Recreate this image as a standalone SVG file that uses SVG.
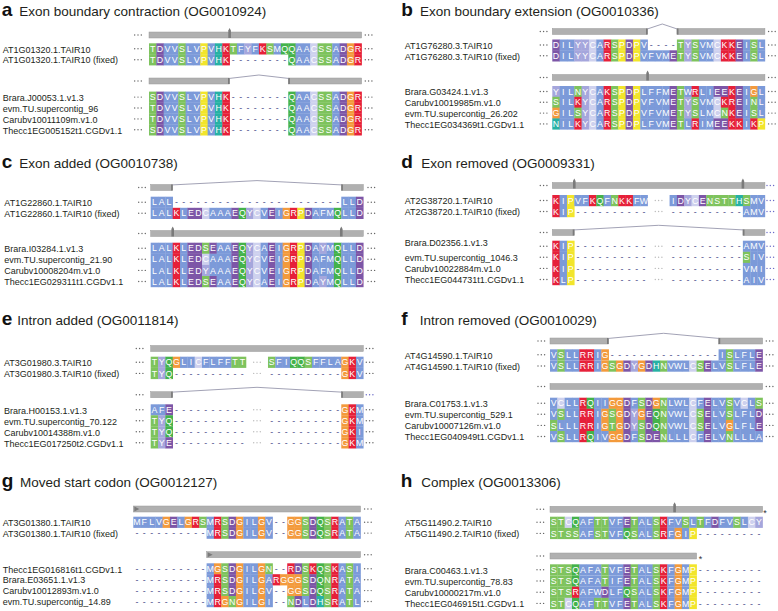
<svg xmlns="http://www.w3.org/2000/svg" xmlns:xlink="http://www.w3.org/1999/xlink" width="778" height="611" viewBox="0 0 778 611">
<style>
text{font-family:"Liberation Sans",Arial,sans-serif}
.tt{font-size:13.5px;fill:#231f20}
.pl{font-size:19px;font-weight:bold;fill:#111}
.lb{font-size:9px;fill:#231f20}
.s rect{width:1.04px;height:11.2px}
.sq{font-size:8.8px;fill:#fff;text-anchor:middle}
.gp{fill:#4b4b8a}
.A,.I,.L,.M,.F,.W,.V{fill:#7c9ad9}
.K,.R{fill:#e62039}
.S,.T,.N{fill:#7ec35d}
.Q{fill:#44b24a}
.D,.E{fill:#7d56a7}
.G{fill:#f39a3c}
.P{fill:#f2e52b}
.H{fill:#27b1a4}
.Y{fill:#a5a6dc}
.C{fill:#ced1ee}
.bar{fill:#b0b0b0;stroke:#9a9a9a;stroke-width:0.5}
.mk{fill:#7a7a7a}
.cap{fill:#7a7a7a}
.in{fill:none;stroke:#8a8aa2;stroke-width:0.8}
.ast{font-size:9px;fill:#333}
</style>
<defs>
<g id="dt"><circle cx="0" cy="0" r="0.7"/><circle cx="3.3" cy="0" r="0.7"/><circle cx="6.6" cy="0" r="0.7"/></g>
<path id="mk" d="M-1.3,10V2.5L0,0L1.3,2.5V10Z"/>
<path id="st" d="M0,0.5L5,3L0,5.5Z"/>
</defs>
<rect width="778" height="611" fill="#fff"/>

<!-- ============ PANEL A ============ -->
<g id="panel-a">
<text class="pl" x="1.7" y="15.7">a</text>
<text class="tt" x="19.3" y="15.7">Exon boundary contraction (OG0010924)</text>
<g id="a-bar1"><rect class="bar" x="149" y="32" width="212.6" height="6"/><use href="#mk" class="mk" x="229.6" y="28"/></g>
<g id="a-bar2"><rect class="bar" x="149" y="78" width="80.6" height="6"/><rect class="bar" x="288.3" y="78" width="73.3" height="6"/><rect class="cap" x="228" y="78" width="1.6" height="6"/><rect class="cap" x="288.3" y="78" width="1.6" height="6"/></g>
<g fill="#666"><use href="#dt" x="134.7" y="35"/><use href="#dt" x="365.3" y="35"/><use href="#dt" x="134.7" y="81"/><use href="#dt" x="365.3" y="81"/>
<use href="#dt" x="134.7" y="48.8"/><use href="#dt" x="365.3" y="48.8"/><use href="#dt" x="134.7" y="59.7"/><use href="#dt" x="365.3" y="59.7"/>
<use href="#dt" x="134.7" y="97.1"/><use href="#dt" x="365.3" y="97.1"/><use href="#dt" x="134.7" y="108"/><use href="#dt" x="365.3" y="108"/><use href="#dt" x="134.7" y="118.9"/><use href="#dt" x="365.3" y="118.9"/><use href="#dt" x="134.7" y="129.8"/><use href="#dt" x="365.3" y="129.8"/></g>
<g id="a-r1"><text class="lb" x="2.7" y="52.5">AT1G01320.1.TAIR10</text>
<g class="s" transform="translate(149,43.3) scale(7.33,1)"><rect x="0" class="T"/><rect x="1" class="D"/><rect x="2" class="V"/><rect x="3" class="V"/><rect x="4" class="S"/><rect x="5" class="L"/><rect x="6" class="V"/><rect x="7" class="P"/><rect x="8" class="V"/><rect x="9" class="H"/><rect x="10" class="K"/><rect x="11" class="T"/><rect x="12" class="F"/><rect x="13" class="Y"/><rect x="14" class="F"/><rect x="15" class="K"/><rect x="16" class="S"/><rect x="17" class="M"/><rect x="18" class="Q"/><rect x="19" class="Q"/><rect x="20" class="A"/><rect x="21" class="A"/><rect x="22" class="C"/><rect x="23" class="S"/><rect x="24" class="S"/><rect x="25" class="A"/><rect x="26" class="D"/><rect x="27" class="G"/><rect x="28" class="R"/></g>
<text class="sq" transform="translate(149,51.9)" x="3.67 11 18.33 25.66 32.99 40.32 47.65 54.98 62.31 69.64 76.97 84.3 91.63 98.96 106.29 113.62 120.95 128.28 135.61 142.94 150.27 157.6 164.93 172.26 179.59 186.92 194.25 201.58 208.91">TDVVSLVPVHKTFYFKSMQQAACSSADGR</text></g>
<g id="a-r2"><text class="lb" x="2.7" y="63.4">AT1G01320.1.TAIR10 (fixed)</text>
<g class="s" transform="translate(149,54.2) scale(7.33,1)"><rect x="0" class="T"/><rect x="1" class="D"/><rect x="2" class="V"/><rect x="3" class="V"/><rect x="4" class="S"/><rect x="5" class="L"/><rect x="6" class="V"/><rect x="7" class="P"/><rect x="8" class="V"/><rect x="9" class="H"/><rect x="10" class="K"/><rect x="19" class="Q"/><rect x="20" class="A"/><rect x="21" class="A"/><rect x="22" class="C"/><rect x="23" class="S"/><rect x="24" class="S"/><rect x="25" class="A"/><rect x="26" class="D"/><rect x="27" class="G"/><rect x="28" class="R"/></g>
<text class="sq" transform="translate(149,62.8)" x="3.67 11 18.33 25.66 32.99 40.32 47.65 54.98 62.31 69.64 76.97 84.3 91.63 98.96 106.29 113.62 120.95 128.28 135.61 142.94 150.27 157.6 164.93 172.26 179.59 186.92 194.25 201.58 208.91">TDVVSLVPVHK<tspan class="gp">--------</tspan>QAACSSADGR</text></g>
<g id="a-r3"><text class="lb" x="2.7" y="100.8">Brara.J00053.1.v1.3</text>
<g class="s" transform="translate(149,91.6) scale(7.33,1)"><rect x="0" class="S"/><rect x="1" class="D"/><rect x="2" class="V"/><rect x="3" class="V"/><rect x="4" class="S"/><rect x="5" class="L"/><rect x="6" class="V"/><rect x="7" class="P"/><rect x="8" class="V"/><rect x="9" class="H"/><rect x="10" class="K"/><rect x="19" class="Q"/><rect x="20" class="A"/><rect x="21" class="A"/><rect x="22" class="C"/><rect x="23" class="S"/><rect x="24" class="S"/><rect x="25" class="A"/><rect x="26" class="D"/><rect x="27" class="G"/><rect x="28" class="R"/></g>
<text class="sq" transform="translate(149,100.2)" x="3.67 11 18.33 25.66 32.99 40.32 47.65 54.98 62.31 69.64 76.97 84.3 91.63 98.96 106.29 113.62 120.95 128.28 135.61 142.94 150.27 157.6 164.93 172.26 179.59 186.92 194.25 201.58 208.91">SDVVSLVPVHK<tspan class="gp">--------</tspan>QAACSSADGR</text></g>
<g id="a-r4"><text class="lb" x="2.7" y="111.7">evm.TU.supercontig_96</text>
<g class="s" transform="translate(149,102.5) scale(7.33,1)"><rect x="0" class="T"/><rect x="1" class="D"/><rect x="2" class="V"/><rect x="3" class="V"/><rect x="4" class="S"/><rect x="5" class="L"/><rect x="6" class="V"/><rect x="7" class="P"/><rect x="8" class="V"/><rect x="9" class="H"/><rect x="10" class="K"/><rect x="19" class="Q"/><rect x="20" class="A"/><rect x="21" class="A"/><rect x="22" class="C"/><rect x="23" class="S"/><rect x="24" class="S"/><rect x="25" class="A"/><rect x="26" class="D"/><rect x="27" class="G"/><rect x="28" class="R"/></g>
<text class="sq" transform="translate(149,111.1)" x="3.67 11 18.33 25.66 32.99 40.32 47.65 54.98 62.31 69.64 76.97 84.3 91.63 98.96 106.29 113.62 120.95 128.28 135.61 142.94 150.27 157.6 164.93 172.26 179.59 186.92 194.25 201.58 208.91">TDVVSLVPVHK<tspan class="gp">--------</tspan>QAACSSADGR</text></g>
<g id="a-r5"><text class="lb" x="2.7" y="122.6">Carubv10011109m.v1.0</text>
<g class="s" transform="translate(149,113.4) scale(7.33,1)"><rect x="0" class="T"/><rect x="1" class="D"/><rect x="2" class="V"/><rect x="3" class="V"/><rect x="4" class="S"/><rect x="5" class="L"/><rect x="6" class="V"/><rect x="7" class="P"/><rect x="8" class="V"/><rect x="9" class="H"/><rect x="10" class="K"/><rect x="19" class="Q"/><rect x="20" class="A"/><rect x="21" class="A"/><rect x="22" class="C"/><rect x="23" class="S"/><rect x="24" class="S"/><rect x="25" class="A"/><rect x="26" class="D"/><rect x="27" class="G"/><rect x="28" class="R"/></g>
<text class="sq" transform="translate(149,122)" x="3.67 11 18.33 25.66 32.99 40.32 47.65 54.98 62.31 69.64 76.97 84.3 91.63 98.96 106.29 113.62 120.95 128.28 135.61 142.94 150.27 157.6 164.93 172.26 179.59 186.92 194.25 201.58 208.91">TDVVSLVPVHK<tspan class="gp">--------</tspan>QAACSSADGR</text></g>
<g id="a-r6"><text class="lb" x="2.7" y="133.5">Thecc1EG005152t1.CGDv1.1</text>
<g class="s" transform="translate(149,124.3) scale(7.33,1)"><rect x="0" class="S"/><rect x="1" class="D"/><rect x="2" class="V"/><rect x="3" class="V"/><rect x="4" class="S"/><rect x="5" class="L"/><rect x="6" class="V"/><rect x="7" class="P"/><rect x="8" class="V"/><rect x="9" class="H"/><rect x="10" class="K"/><rect x="19" class="Q"/><rect x="20" class="A"/><rect x="21" class="A"/><rect x="22" class="C"/><rect x="23" class="S"/><rect x="24" class="S"/><rect x="25" class="A"/><rect x="26" class="D"/><rect x="27" class="G"/><rect x="28" class="R"/></g>
<text class="sq" transform="translate(149,132.9)" x="3.67 11 18.33 25.66 32.99 40.32 47.65 54.98 62.31 69.64 76.97 84.3 91.63 98.96 106.29 113.62 120.95 128.28 135.61 142.94 150.27 157.6 164.93 172.26 179.59 186.92 194.25 201.58 208.91">SDVVSLVPVHK<tspan class="gp">--------</tspan>QAACSSADGR</text></g>
</g>

<!-- ============ PANEL B ============ -->
<g id="panel-b">
<text class="pl" x="401.3" y="15.7">b</text>
<text class="tt" x="420" y="15.7">Exon boundary extension (OG0010336)</text>
<g id="b-bar1"><rect class="bar" x="552.3" y="28.5" width="95.3" height="6"/><rect class="bar" x="676.9" y="28.5" width="88" height="6"/><rect class="cap" x="646" y="28.5" width="1.6" height="6"/><rect class="cap" x="676.9" y="28.5" width="1.6" height="6"/></g>
<g id="b-bar2"><rect class="bar" x="552.3" y="74.5" width="212.6" height="6"/><use href="#mk" class="mk" x="647.6" y="70.5"/></g>
<g fill="#666"><use href="#dt" x="540.3" y="31.5"/><use href="#dt" x="768.6" y="31.5"/><use href="#dt" x="540.3" y="77.5"/><use href="#dt" x="768.6" y="77.5"/>
<use href="#dt" x="540.3" y="45"/><use href="#dt" x="768.6" y="45"/><use href="#dt" x="540.3" y="55.8"/><use href="#dt" x="768.6" y="55.8"/>
<use href="#dt" x="540.3" y="91.5"/><use href="#dt" x="768.6" y="91.5"/><use href="#dt" x="540.3" y="102.3"/><use href="#dt" x="768.6" y="102.3"/><use href="#dt" x="540.3" y="113.1"/><use href="#dt" x="768.6" y="113.1"/><use href="#dt" x="540.3" y="123.9"/><use href="#dt" x="768.6" y="123.9"/></g>
<g id="b-r1"><text class="lb" x="404.7" y="48.7">AT1G76280.3.TAIR10</text>
<g class="s" transform="translate(552.3,39.5) scale(7.33,1)"><rect x="0" class="D"/><rect x="1" class="I"/><rect x="2" class="L"/><rect x="3" class="Y"/><rect x="4" class="Y"/><rect x="5" class="C"/><rect x="6" class="A"/><rect x="7" class="R"/><rect x="8" class="S"/><rect x="9" class="P"/><rect x="10" class="D"/><rect x="11" class="P"/><rect x="12" class="V"/><rect x="17" class="T"/><rect x="18" class="Y"/><rect x="19" class="S"/><rect x="20" class="V"/><rect x="21" class="M"/><rect x="22" class="C"/><rect x="23" class="K"/><rect x="24" class="K"/><rect x="25" class="E"/><rect x="26" class="I"/><rect x="27" class="S"/><rect x="28" class="L"/></g>
<text class="sq" transform="translate(552.3,48.1)" x="3.67 11 18.33 25.66 32.99 40.32 47.65 54.98 62.31 69.64 76.97 84.3 91.63 98.96 106.29 113.62 120.95 128.28 135.61 142.94 150.27 157.6 164.93 172.26 179.59 186.92 194.25 201.58 208.91">DILYYCARSPDPV<tspan class="gp">----</tspan>TYSVMCKKEISL</text></g>
<g id="b-r2"><text class="lb" x="404.7" y="59.5">AT1G76280.3.TAIR10 (fixed)</text>
<g class="s" transform="translate(552.3,50.3) scale(7.33,1)"><rect x="0" class="D"/><rect x="1" class="I"/><rect x="2" class="L"/><rect x="3" class="Y"/><rect x="4" class="Y"/><rect x="5" class="C"/><rect x="6" class="A"/><rect x="7" class="R"/><rect x="8" class="S"/><rect x="9" class="P"/><rect x="10" class="D"/><rect x="11" class="P"/><rect x="12" class="V"/><rect x="13" class="F"/><rect x="14" class="V"/><rect x="15" class="M"/><rect x="16" class="E"/><rect x="17" class="T"/><rect x="18" class="Y"/><rect x="19" class="S"/><rect x="20" class="V"/><rect x="21" class="M"/><rect x="22" class="C"/><rect x="23" class="K"/><rect x="24" class="K"/><rect x="25" class="E"/><rect x="26" class="I"/><rect x="27" class="S"/><rect x="28" class="L"/></g>
<text class="sq" transform="translate(552.3,58.9)" x="3.67 11 18.33 25.66 32.99 40.32 47.65 54.98 62.31 69.64 76.97 84.3 91.63 98.96 106.29 113.62 120.95 128.28 135.61 142.94 150.27 157.6 164.93 172.26 179.59 186.92 194.25 201.58 208.91">DILYYCARSPDPVFVMETYSVMCKKEISL</text></g>
<g id="b-r3"><text class="lb" x="404.7" y="95.2">Brara.G03424.1.v1.3</text>
<g class="s" transform="translate(552.3,86) scale(7.33,1)"><rect x="0" class="Y"/><rect x="1" class="I"/><rect x="2" class="L"/><rect x="3" class="N"/><rect x="4" class="Y"/><rect x="5" class="C"/><rect x="6" class="A"/><rect x="7" class="K"/><rect x="8" class="S"/><rect x="9" class="P"/><rect x="10" class="D"/><rect x="11" class="P"/><rect x="12" class="L"/><rect x="13" class="F"/><rect x="14" class="F"/><rect x="15" class="M"/><rect x="16" class="E"/><rect x="17" class="T"/><rect x="18" class="W"/><rect x="19" class="R"/><rect x="20" class="L"/><rect x="21" class="I"/><rect x="22" class="E"/><rect x="23" class="E"/><rect x="24" class="K"/><rect x="25" class="E"/><rect x="26" class="I"/><rect x="27" class="G"/><rect x="28" class="L"/></g>
<text class="sq" transform="translate(552.3,94.6)" x="3.67 11 18.33 25.66 32.99 40.32 47.65 54.98 62.31 69.64 76.97 84.3 91.63 98.96 106.29 113.62 120.95 128.28 135.61 142.94 150.27 157.6 164.93 172.26 179.59 186.92 194.25 201.58 208.91">YILNYCAKSPDPLFFMETWRLIEEKEIGL</text></g>
<g id="b-r4"><text class="lb" x="404.7" y="106">Carubv10019985m.v1.0</text>
<g class="s" transform="translate(552.3,96.8) scale(7.33,1)"><rect x="0" class="S"/><rect x="1" class="I"/><rect x="2" class="L"/><rect x="3" class="K"/><rect x="4" class="Y"/><rect x="5" class="C"/><rect x="6" class="A"/><rect x="7" class="R"/><rect x="8" class="S"/><rect x="9" class="P"/><rect x="10" class="D"/><rect x="11" class="P"/><rect x="12" class="V"/><rect x="13" class="F"/><rect x="14" class="V"/><rect x="15" class="M"/><rect x="16" class="E"/><rect x="17" class="T"/><rect x="18" class="Y"/><rect x="19" class="S"/><rect x="20" class="V"/><rect x="21" class="M"/><rect x="22" class="C"/><rect x="23" class="K"/><rect x="24" class="R"/><rect x="25" class="E"/><rect x="26" class="I"/><rect x="27" class="N"/><rect x="28" class="L"/></g>
<text class="sq" transform="translate(552.3,105.4)" x="3.67 11 18.33 25.66 32.99 40.32 47.65 54.98 62.31 69.64 76.97 84.3 91.63 98.96 106.29 113.62 120.95 128.28 135.61 142.94 150.27 157.6 164.93 172.26 179.59 186.92 194.25 201.58 208.91">SILKYCARSPDPVFVMETYSVMCKREINL</text></g>
<g id="b-r5"><text class="lb" x="404.7" y="116.8">evm.TU.supercontig_26.202</text>
<g class="s" transform="translate(552.3,107.6) scale(7.33,1)"><rect x="0" class="G"/><rect x="1" class="I"/><rect x="2" class="L"/><rect x="3" class="S"/><rect x="4" class="Y"/><rect x="5" class="C"/><rect x="6" class="A"/><rect x="7" class="R"/><rect x="8" class="S"/><rect x="9" class="P"/><rect x="10" class="D"/><rect x="11" class="P"/><rect x="12" class="V"/><rect x="13" class="F"/><rect x="14" class="V"/><rect x="15" class="M"/><rect x="16" class="E"/><rect x="17" class="T"/><rect x="18" class="Y"/><rect x="19" class="S"/><rect x="20" class="L"/><rect x="21" class="M"/><rect x="22" class="C"/><rect x="23" class="N"/><rect x="24" class="K"/><rect x="25" class="E"/><rect x="26" class="I"/><rect x="27" class="S"/><rect x="28" class="L"/></g>
<text class="sq" transform="translate(552.3,116.2)" x="3.67 11 18.33 25.66 32.99 40.32 47.65 54.98 62.31 69.64 76.97 84.3 91.63 98.96 106.29 113.62 120.95 128.28 135.61 142.94 150.27 157.6 164.93 172.26 179.59 186.92 194.25 201.58 208.91">GILSYCARSPDPVFVMETYSLMCNKEISL</text></g>
<g id="b-r6"><text class="lb" x="404.7" y="127.6">Thecc1EG034369t1.CGDv1.1</text>
<g class="s" transform="translate(552.3,118.4) scale(7.33,1)"><rect x="0" class="H"/><rect x="1" class="I"/><rect x="2" class="L"/><rect x="3" class="K"/><rect x="4" class="Y"/><rect x="5" class="C"/><rect x="6" class="A"/><rect x="7" class="R"/><rect x="8" class="S"/><rect x="9" class="P"/><rect x="10" class="D"/><rect x="11" class="P"/><rect x="12" class="L"/><rect x="13" class="F"/><rect x="14" class="V"/><rect x="15" class="M"/><rect x="16" class="E"/><rect x="17" class="T"/><rect x="18" class="L"/><rect x="19" class="R"/><rect x="20" class="I"/><rect x="21" class="M"/><rect x="22" class="E"/><rect x="23" class="E"/><rect x="24" class="K"/><rect x="25" class="K"/><rect x="26" class="I"/><rect x="27" class="K"/><rect x="28" class="P"/></g>
<text class="sq" transform="translate(552.3,127)" x="3.67 11 18.33 25.66 32.99 40.32 47.65 54.98 62.31 69.64 76.97 84.3 91.63 98.96 106.29 113.62 120.95 128.28 135.61 142.94 150.27 157.6 164.93 172.26 179.59 186.92 194.25 201.58 208.91">NILKYCARSPDPLFVMETLRIMEEKKIKP</text></g>
</g>

<!-- ============ PANEL C ============ -->
<g id="panel-c">
<text class="pl" x="1.7" y="168.3">c</text>
<text class="tt" x="19.3" y="168.3">Exon added (OG0010738)</text>
<g id="c-bar1"><rect class="bar" x="150.7" y="184.5" width="22" height="6"/><rect class="bar" x="341.3" y="184.5" width="22" height="6"/><rect class="cap" x="171.1" y="184.5" width="1.6" height="6"/><rect class="cap" x="341.3" y="184.5" width="1.6" height="6"/></g>
<g id="c-bar2"><rect class="bar" x="150.7" y="230.5" width="212.6" height="6"/><use href="#mk" class="mk" x="172.7" y="226.5"/><use href="#mk" class="mk" x="341.3" y="226.5"/></g>
<g fill="#666"><use href="#dt" x="138.7" y="187.5"/><use href="#dt" x="368" y="187.5"/><use href="#dt" x="138.7" y="233.5"/><use href="#dt" x="368" y="233.5"/>
<use href="#dt" x="138.7" y="202.2"/><use href="#dt" x="368" y="202.2"/><use href="#dt" x="138.7" y="213.3"/><use href="#dt" x="368" y="213.3"/>
<use href="#dt" x="138.7" y="248.2"/><use href="#dt" x="368" y="248.2"/><use href="#dt" x="138.7" y="259.3"/><use href="#dt" x="368" y="259.3"/><use href="#dt" x="138.7" y="270.4"/><use href="#dt" x="368" y="270.4"/><use href="#dt" x="138.7" y="281.5"/><use href="#dt" x="368" y="281.5"/></g>
<g id="c-r1"><text class="lb" x="4.3" y="205.9">AT1G22860.1.TAIR10</text>
<g class="s" transform="translate(150.7,196.7) scale(7.33,1)"><rect x="0" class="L"/><rect x="1" class="A"/><rect x="2" class="L"/><rect x="26" class="L"/><rect x="27" class="L"/><rect x="28" class="D"/></g>
<text class="sq" transform="translate(150.7,205.3)" x="3.67 11 18.33 25.66 32.99 40.32 47.65 54.98 62.31 69.64 76.97 84.3 91.63 98.96 106.29 113.62 120.95 128.28 135.61 142.94 150.27 157.6 164.93 172.26 179.59 186.92 194.25 201.58 208.91">LAL<tspan class="gp">-----------------------</tspan>LLD</text></g>
<g id="c-r2"><text class="lb" x="4.3" y="217">AT1G22860.1.TAIR10 (fixed)</text>
<g class="s" transform="translate(150.7,207.8) scale(7.33,1)"><rect x="0" class="L"/><rect x="1" class="A"/><rect x="2" class="L"/><rect x="3" class="K"/><rect x="4" class="L"/><rect x="5" class="E"/><rect x="6" class="D"/><rect x="7" class="C"/><rect x="8" class="A"/><rect x="9" class="A"/><rect x="10" class="A"/><rect x="11" class="E"/><rect x="12" class="Q"/><rect x="13" class="Y"/><rect x="14" class="C"/><rect x="15" class="V"/><rect x="16" class="E"/><rect x="17" class="I"/><rect x="18" class="G"/><rect x="19" class="R"/><rect x="20" class="P"/><rect x="21" class="D"/><rect x="22" class="A"/><rect x="23" class="F"/><rect x="24" class="M"/><rect x="25" class="Q"/><rect x="26" class="L"/><rect x="27" class="L"/><rect x="28" class="D"/></g>
<text class="sq" transform="translate(150.7,216.4)" x="3.67 11 18.33 25.66 32.99 40.32 47.65 54.98 62.31 69.64 76.97 84.3 91.63 98.96 106.29 113.62 120.95 128.28 135.61 142.94 150.27 157.6 164.93 172.26 179.59 186.92 194.25 201.58 208.91">LALKLEDCAAAEQYCVEIGRPDAFMQLLD</text></g>
<g id="c-r3"><text class="lb" x="4.3" y="251.9">Brara.I03284.1.v1.3</text>
<g class="s" transform="translate(150.7,242.7) scale(7.33,1)"><rect x="0" class="L"/><rect x="1" class="A"/><rect x="2" class="L"/><rect x="3" class="K"/><rect x="4" class="L"/><rect x="5" class="E"/><rect x="6" class="D"/><rect x="7" class="S"/><rect x="8" class="E"/><rect x="9" class="A"/><rect x="10" class="A"/><rect x="11" class="E"/><rect x="12" class="Q"/><rect x="13" class="Y"/><rect x="14" class="C"/><rect x="15" class="A"/><rect x="16" class="E"/><rect x="17" class="I"/><rect x="18" class="G"/><rect x="19" class="R"/><rect x="20" class="P"/><rect x="21" class="D"/><rect x="22" class="A"/><rect x="23" class="Y"/><rect x="24" class="M"/><rect x="25" class="Q"/><rect x="26" class="L"/><rect x="27" class="L"/><rect x="28" class="D"/></g>
<text class="sq" transform="translate(150.7,251.3)" x="3.67 11 18.33 25.66 32.99 40.32 47.65 54.98 62.31 69.64 76.97 84.3 91.63 98.96 106.29 113.62 120.95 128.28 135.61 142.94 150.27 157.6 164.93 172.26 179.59 186.92 194.25 201.58 208.91">LALKLEDSEAAEQYCAEIGRPDAYMQLLD</text></g>
<g id="c-r4"><text class="lb" x="4.3" y="263">evm.TU.supercontig_21.90</text>
<g class="s" transform="translate(150.7,253.8) scale(7.33,1)"><rect x="0" class="L"/><rect x="1" class="A"/><rect x="2" class="L"/><rect x="3" class="K"/><rect x="4" class="L"/><rect x="5" class="E"/><rect x="6" class="D"/><rect x="7" class="C"/><rect x="8" class="A"/><rect x="9" class="A"/><rect x="10" class="A"/><rect x="11" class="E"/><rect x="12" class="Q"/><rect x="13" class="Y"/><rect x="14" class="C"/><rect x="15" class="V"/><rect x="16" class="E"/><rect x="17" class="I"/><rect x="18" class="G"/><rect x="19" class="R"/><rect x="20" class="P"/><rect x="21" class="D"/><rect x="22" class="A"/><rect x="23" class="F"/><rect x="24" class="M"/><rect x="25" class="Q"/><rect x="26" class="L"/><rect x="27" class="L"/><rect x="28" class="D"/></g>
<text class="sq" transform="translate(150.7,262.4)" x="3.67 11 18.33 25.66 32.99 40.32 47.65 54.98 62.31 69.64 76.97 84.3 91.63 98.96 106.29 113.62 120.95 128.28 135.61 142.94 150.27 157.6 164.93 172.26 179.59 186.92 194.25 201.58 208.91">LALKLEDCAAAEQYCVEIGRPDAFMQLLD</text></g>
<g id="c-r5"><text class="lb" x="4.3" y="274.1">Carubv10008204m.v1.0</text>
<g class="s" transform="translate(150.7,264.9) scale(7.33,1)"><rect x="0" class="L"/><rect x="1" class="A"/><rect x="2" class="L"/><rect x="3" class="K"/><rect x="4" class="L"/><rect x="5" class="E"/><rect x="6" class="D"/><rect x="7" class="Y"/><rect x="8" class="A"/><rect x="9" class="A"/><rect x="10" class="A"/><rect x="11" class="E"/><rect x="12" class="Q"/><rect x="13" class="Y"/><rect x="14" class="C"/><rect x="15" class="V"/><rect x="16" class="E"/><rect x="17" class="I"/><rect x="18" class="G"/><rect x="19" class="R"/><rect x="20" class="P"/><rect x="21" class="D"/><rect x="22" class="A"/><rect x="23" class="F"/><rect x="24" class="M"/><rect x="25" class="Q"/><rect x="26" class="L"/><rect x="27" class="L"/><rect x="28" class="D"/></g>
<text class="sq" transform="translate(150.7,273.5)" x="3.67 11 18.33 25.66 32.99 40.32 47.65 54.98 62.31 69.64 76.97 84.3 91.63 98.96 106.29 113.62 120.95 128.28 135.61 142.94 150.27 157.6 164.93 172.26 179.59 186.92 194.25 201.58 208.91">LALKLEDYAAAEQYCVEIGRPDAFMQLLD</text></g>
<g id="c-r6"><text class="lb" x="4.3" y="285.2">Thecc1EG029311t1.CGDv1.1</text>
<g class="s" transform="translate(150.7,276) scale(7.33,1)"><rect x="0" class="L"/><rect x="1" class="A"/><rect x="2" class="L"/><rect x="3" class="K"/><rect x="4" class="L"/><rect x="5" class="E"/><rect x="6" class="D"/><rect x="7" class="S"/><rect x="8" class="E"/><rect x="9" class="A"/><rect x="10" class="A"/><rect x="11" class="E"/><rect x="12" class="Q"/><rect x="13" class="Y"/><rect x="14" class="C"/><rect x="15" class="A"/><rect x="16" class="E"/><rect x="17" class="I"/><rect x="18" class="G"/><rect x="19" class="R"/><rect x="20" class="P"/><rect x="21" class="D"/><rect x="22" class="A"/><rect x="23" class="Y"/><rect x="24" class="M"/><rect x="25" class="Q"/><rect x="26" class="L"/><rect x="27" class="L"/><rect x="28" class="D"/></g>
<text class="sq" transform="translate(150.7,284.6)" x="3.67 11 18.33 25.66 32.99 40.32 47.65 54.98 62.31 69.64 76.97 84.3 91.63 98.96 106.29 113.62 120.95 128.28 135.61 142.94 150.27 157.6 164.93 172.26 179.59 186.92 194.25 201.58 208.91">LALKLEDSEAAEQYCAEIGRPDAYMQLLD</text></g>
</g>

<!-- ============ PANEL D ============ -->
<g id="panel-d">
<text class="pl" x="401.3" y="168.3">d</text>
<text class="tt" x="421.3" y="168.3">Exon removed (OG0009331)</text>
<g id="d-bar1"><rect class="bar" x="552.3" y="182.5" width="212.6" height="6"/><use href="#mk" class="mk" x="574.3" y="178.5"/><use href="#mk" class="mk" x="742.9" y="178.5"/></g>
<g id="d-bar2"><rect class="bar" x="552.3" y="229.5" width="22" height="6"/><rect class="bar" x="742.9" y="229.5" width="22" height="6"/><rect class="cap" x="572.7" y="229.5" width="1.6" height="6"/><rect class="cap" x="742.9" y="229.5" width="1.6" height="6"/></g>
<g fill="#666"><use href="#dt" x="540.3" y="185.5"/><use href="#dt" x="540.3" y="232.5"/><use href="#dt" x="540.3" y="200.5"/><use href="#dt" x="540.3" y="211.5"/>
<use href="#dt" x="540.3" y="246.2"/><use href="#dt" x="540.3" y="257.3"/><use href="#dt" x="540.3" y="268.4"/><use href="#dt" x="540.3" y="279.5"/></g>
<g fill="#6a6ac8"><use href="#dt" x="767" y="185.5"/><use href="#dt" x="767" y="232.5"/><use href="#dt" x="767" y="200.5"/><use href="#dt" x="767" y="211.5"/>
<use href="#dt" x="767" y="246.2"/><use href="#dt" x="767" y="257.3"/><use href="#dt" x="767" y="268.4"/><use href="#dt" x="767" y="279.5"/></g>
<g fill="#bbb"><use href="#dt" x="655.3" y="200.5"/><use href="#dt" x="655.3" y="211.5"/><use href="#dt" x="655.3" y="246.2"/><use href="#dt" x="655.3" y="257.3"/><use href="#dt" x="655.3" y="268.4"/><use href="#dt" x="655.3" y="279.5"/></g>
<g id="d-r1"><text class="lb" x="404.7" y="204.2">AT2G38720.1.TAIR10</text>
<g class="s" transform="translate(552.3,195) scale(7.33,1)"><rect x="0" class="K"/><rect x="1" class="I"/><rect x="2" class="P"/><rect x="3" class="V"/><rect x="4" class="F"/><rect x="5" class="K"/><rect x="6" class="Q"/><rect x="7" class="F"/><rect x="8" class="N"/><rect x="9" class="K"/><rect x="10" class="K"/><rect x="11" class="F"/><rect x="12" class="W"/><rect x="16" class="I"/><rect x="17" class="D"/><rect x="18" class="Y"/><rect x="19" class="C"/><rect x="20" class="E"/><rect x="21" class="N"/><rect x="22" class="S"/><rect x="23" class="T"/><rect x="24" class="T"/><rect x="25" class="H"/><rect x="26" class="S"/><rect x="27" class="M"/><rect x="28" class="V"/></g>
<text class="sq" transform="translate(552.3,203.6)" x="3.67 11 18.33 25.66 32.99 40.32 47.65 54.98 62.31 69.64 76.97 84.3 91.63 98.96 106.29 113.62 120.95 128.28 135.61 142.94 150.27 157.6 164.93 172.26 179.59 186.92 194.25 201.58 208.91">KIPVFKQFNKKFW&#160;&#160;&#160;IDYCENSTTHSMV</text></g>
<g id="d-r2"><text class="lb" x="404.7" y="215.2">AT2G38720.1.TAIR10 (fixed)</text>
<g class="s" transform="translate(552.3,206) scale(7.33,1)"><rect x="0" class="K"/><rect x="1" class="I"/><rect x="2" class="P"/><rect x="26" class="A"/><rect x="27" class="M"/><rect x="28" class="V"/></g>
<text class="sq" transform="translate(552.3,214.6)" x="3.67 11 18.33 25.66 32.99 40.32 47.65 54.98 62.31 69.64 76.97 84.3 91.63 98.96 106.29 113.62 120.95 128.28 135.61 142.94 150.27 157.6 164.93 172.26 179.59 186.92 194.25 201.58 208.91">KIP<tspan class="gp">----------</tspan>&#160;&#160;&#160;<tspan class="gp">----------</tspan>AMV</text></g>
<g id="d-r3"><text class="lb" x="404.7" y="246.4">Brara.D02356.1.v1.3</text>
<g class="s" transform="translate(552.3,240.7) scale(7.33,1)"><rect x="0" class="K"/><rect x="1" class="I"/><rect x="2" class="P"/><rect x="26" class="A"/><rect x="27" class="M"/><rect x="28" class="V"/></g>
<text class="sq" transform="translate(552.3,249.3)" x="3.67 11 18.33 25.66 32.99 40.32 47.65 54.98 62.31 69.64 76.97 84.3 91.63 98.96 106.29 113.62 120.95 128.28 135.61 142.94 150.27 157.6 164.93 172.26 179.59 186.92 194.25 201.58 208.91">KIP<tspan class="gp">----------</tspan>&#160;&#160;&#160;<tspan class="gp">----------</tspan>AMV</text></g>
<g id="d-r4"><text class="lb" x="404.7" y="261">evm.TU.supercontig_1046.3</text>
<g class="s" transform="translate(552.3,251.8) scale(7.33,1)"><rect x="0" class="K"/><rect x="1" class="I"/><rect x="2" class="P"/><rect x="26" class="S"/><rect x="27" class="I"/><rect x="28" class="V"/></g>
<text class="sq" transform="translate(552.3,260.4)" x="3.67 11 18.33 25.66 32.99 40.32 47.65 54.98 62.31 69.64 76.97 84.3 91.63 98.96 106.29 113.62 120.95 128.28 135.61 142.94 150.27 157.6 164.93 172.26 179.59 186.92 194.25 201.58 208.91">KIP<tspan class="gp">----------</tspan>&#160;&#160;&#160;<tspan class="gp">----------</tspan>SIV</text></g>
<g id="d-r5"><text class="lb" x="404.7" y="272.1">Carubv10022884m.v1.0</text>
<g class="s" transform="translate(552.3,262.9) scale(7.33,1)"><rect x="0" class="K"/><rect x="1" class="I"/><rect x="2" class="P"/><rect x="26" class="V"/><rect x="27" class="M"/><rect x="28" class="I"/></g>
<text class="sq" transform="translate(552.3,271.5)" x="3.67 11 18.33 25.66 32.99 40.32 47.65 54.98 62.31 69.64 76.97 84.3 91.63 98.96 106.29 113.62 120.95 128.28 135.61 142.94 150.27 157.6 164.93 172.26 179.59 186.92 194.25 201.58 208.91">KIP<tspan class="gp">----------</tspan>&#160;&#160;&#160;<tspan class="gp">----------</tspan>VMI</text></g>
<g id="d-r6"><text class="lb" x="404.7" y="283.2">Thecc1EG044731t1.CGDv1.1</text>
<g class="s" transform="translate(552.3,274) scale(7.33,1)"><rect x="0" class="K"/><rect x="1" class="L"/><rect x="2" class="P"/><rect x="26" class="A"/><rect x="27" class="I"/><rect x="28" class="V"/></g>
<text class="sq" transform="translate(552.3,282.6)" x="3.67 11 18.33 25.66 32.99 40.32 47.65 54.98 62.31 69.64 76.97 84.3 91.63 98.96 106.29 113.62 120.95 128.28 135.61 142.94 150.27 157.6 164.93 172.26 179.59 186.92 194.25 201.58 208.91">KLP<tspan class="gp">----------</tspan>&#160;&#160;&#160;<tspan class="gp">----------</tspan>AIV</text></g>
</g>

<!-- ============ PANEL E ============ -->
<g id="panel-e">
<text class="pl" x="1.7" y="325">e</text>
<text class="tt" x="17.3" y="325">Intron added (OG0011814)</text>
<g id="e-bar1"><rect class="bar" x="150.7" y="345.5" width="212.6" height="6"/></g>
<g id="e-bar2"><rect class="bar" x="150.7" y="391.7" width="22" height="6"/><rect class="bar" x="341.3" y="391.7" width="22" height="6"/><rect class="cap" x="171.1" y="391.7" width="1.6" height="6"/><rect class="cap" x="341.3" y="391.7" width="1.6" height="6"/></g>
<g fill="#666"><use href="#dt" x="136.3" y="348.5"/><use href="#dt" x="366.3" y="348.5"/><use href="#dt" x="136.3" y="394.7"/>
<use href="#dt" x="136.3" y="362.2"/><use href="#dt" x="366.3" y="362.2"/><use href="#dt" x="136.3" y="373.4"/><use href="#dt" x="366.3" y="373.4"/>
<use href="#dt" x="136.3" y="409.8"/><use href="#dt" x="366.3" y="409.8"/><use href="#dt" x="136.3" y="420.8"/><use href="#dt" x="366.3" y="420.8"/><use href="#dt" x="136.3" y="431.8"/><use href="#dt" x="366.3" y="431.8"/><use href="#dt" x="136.3" y="442.8"/><use href="#dt" x="366.3" y="442.8"/></g>
<g fill="#6a6ac8"><use href="#dt" x="366.3" y="394.7"/></g>
<g fill="#bbb"><use href="#dt" x="253.7" y="362.2"/><use href="#dt" x="253.7" y="373.4"/><use href="#dt" x="253.7" y="409.8"/><use href="#dt" x="253.7" y="420.8"/><use href="#dt" x="253.7" y="431.8"/><use href="#dt" x="253.7" y="442.8"/></g>
<g id="e-r1"><text class="lb" x="4" y="365.9">AT3G01980.3.TAIR10</text>
<g class="s" transform="translate(150.7,356.7) scale(7.33,1)"><rect x="0" class="T"/><rect x="1" class="Y"/><rect x="2" class="Q"/><rect x="3" class="G"/><rect x="4" class="L"/><rect x="5" class="I"/><rect x="6" class="C"/><rect x="7" class="F"/><rect x="8" class="L"/><rect x="9" class="F"/><rect x="10" class="F"/><rect x="11" class="T"/><rect x="12" class="T"/><rect x="16" class="S"/><rect x="17" class="F"/><rect x="18" class="I"/><rect x="19" class="Q"/><rect x="20" class="Q"/><rect x="21" class="S"/><rect x="22" class="F"/><rect x="23" class="F"/><rect x="24" class="L"/><rect x="25" class="A"/><rect x="26" class="G"/><rect x="27" class="K"/><rect x="28" class="V"/></g>
<text class="sq" transform="translate(150.7,365.3)" x="3.67 11 18.33 25.66 32.99 40.32 47.65 54.98 62.31 69.64 76.97 84.3 91.63 98.96 106.29 113.62 120.95 128.28 135.61 142.94 150.27 157.6 164.93 172.26 179.59 186.92 194.25 201.58 208.91">TYQGLICFLFFTT&#160;&#160;&#160;SFIQQSFFLAGKV</text></g>
<g id="e-r2"><text class="lb" x="4" y="377.1">AT3G01980.3.TAIR10 (fixed)</text>
<g class="s" transform="translate(150.7,367.9) scale(7.33,1)"><rect x="0" class="T"/><rect x="1" class="Y"/><rect x="2" class="Q"/><rect x="26" class="G"/><rect x="27" class="K"/><rect x="28" class="V"/></g>
<text class="sq" transform="translate(150.7,376.5)" x="3.67 11 18.33 25.66 32.99 40.32 47.65 54.98 62.31 69.64 76.97 84.3 91.63 98.96 106.29 113.62 120.95 128.28 135.61 142.94 150.27 157.6 164.93 172.26 179.59 186.92 194.25 201.58 208.91">TYQ<tspan class="gp">----------</tspan>&#160;&#160;&#160;<tspan class="gp">----------</tspan>GKV</text></g>
<g id="e-r3"><text class="lb" x="4" y="413.5">Brara.H00153.1.v1.3</text>
<g class="s" transform="translate(150.7,404.3) scale(7.33,1)"><rect x="0" class="A"/><rect x="1" class="F"/><rect x="2" class="E"/><rect x="26" class="G"/><rect x="27" class="K"/><rect x="28" class="M"/></g>
<text class="sq" transform="translate(150.7,412.9)" x="3.67 11 18.33 25.66 32.99 40.32 47.65 54.98 62.31 69.64 76.97 84.3 91.63 98.96 106.29 113.62 120.95 128.28 135.61 142.94 150.27 157.6 164.93 172.26 179.59 186.92 194.25 201.58 208.91">AFE<tspan class="gp">----------</tspan>&#160;&#160;&#160;<tspan class="gp">----------</tspan>GKM</text></g>
<g id="e-r4"><text class="lb" x="4" y="424.5">evm.TU.supercontig_70.122</text>
<g class="s" transform="translate(150.7,415.3) scale(7.33,1)"><rect x="0" class="T"/><rect x="1" class="Y"/><rect x="2" class="Q"/><rect x="26" class="G"/><rect x="27" class="K"/><rect x="28" class="M"/></g>
<text class="sq" transform="translate(150.7,423.9)" x="3.67 11 18.33 25.66 32.99 40.32 47.65 54.98 62.31 69.64 76.97 84.3 91.63 98.96 106.29 113.62 120.95 128.28 135.61 142.94 150.27 157.6 164.93 172.26 179.59 186.92 194.25 201.58 208.91">TYQ<tspan class="gp">----------</tspan>&#160;&#160;&#160;<tspan class="gp">----------</tspan>GKM</text></g>
<g id="e-r5"><text class="lb" x="4" y="435.5">Carubv10014388m.v1.0</text>
<g class="s" transform="translate(150.7,426.3) scale(7.33,1)"><rect x="0" class="T"/><rect x="1" class="Y"/><rect x="2" class="Q"/><rect x="26" class="G"/><rect x="27" class="K"/><rect x="28" class="I"/></g>
<text class="sq" transform="translate(150.7,434.9)" x="3.67 11 18.33 25.66 32.99 40.32 47.65 54.98 62.31 69.64 76.97 84.3 91.63 98.96 106.29 113.62 120.95 128.28 135.61 142.94 150.27 157.6 164.93 172.26 179.59 186.92 194.25 201.58 208.91">TYQ<tspan class="gp">----------</tspan>&#160;&#160;&#160;<tspan class="gp">----------</tspan>GKI</text></g>
<g id="e-r6"><text class="lb" x="4" y="446.5">Thecc1EG017250t2.CGDv1.1</text>
<g class="s" transform="translate(150.7,437.3) scale(7.33,1)"><rect x="0" class="T"/><rect x="1" class="Y"/><rect x="2" class="E"/><rect x="26" class="G"/><rect x="27" class="K"/><rect x="28" class="M"/></g>
<text class="sq" transform="translate(150.7,445.9)" x="3.67 11 18.33 25.66 32.99 40.32 47.65 54.98 62.31 69.64 76.97 84.3 91.63 98.96 106.29 113.62 120.95 128.28 135.61 142.94 150.27 157.6 164.93 172.26 179.59 186.92 194.25 201.58 208.91">TYE<tspan class="gp">----------</tspan>&#160;&#160;&#160;<tspan class="gp">----------</tspan>GKM</text></g>
</g>

<!-- ============ PANEL F ============ -->
<g id="panel-f">
<text class="pl" x="401.3" y="325">f</text>
<text class="tt" x="419.7" y="325">Intron removed (OG0010029)</text>
<g id="f-bar1"><rect class="bar" x="550" y="338" width="58.6" height="6"/><rect class="bar" x="718.6" y="338" width="44" height="6"/><rect class="cap" x="607" y="338" width="1.6" height="6"/><rect class="cap" x="718.6" y="338" width="1.6" height="6"/></g>
<g id="f-bar2"><rect class="bar" x="550" y="383.5" width="212.6" height="6"/></g>
<g fill="#666"><use href="#dt" x="538" y="341"/><use href="#dt" x="766.3" y="341"/><use href="#dt" x="538" y="386.5"/><use href="#dt" x="766.3" y="386.5"/>
<use href="#dt" x="538" y="354.8"/><use href="#dt" x="766.3" y="354.8"/><use href="#dt" x="538" y="366"/><use href="#dt" x="766.3" y="366"/>
<use href="#dt" x="538" y="403.2"/><use href="#dt" x="766.3" y="403.2"/><use href="#dt" x="538" y="414.3"/><use href="#dt" x="766.3" y="414.3"/><use href="#dt" x="538" y="425.4"/><use href="#dt" x="766.3" y="425.4"/><use href="#dt" x="538" y="436.5"/><use href="#dt" x="766.3" y="436.5"/></g>
<g id="f-r1"><text class="lb" x="404.7" y="358.5">AT4G14590.1.TAIR10</text>
<g class="s" transform="translate(550,349.3) scale(7.33,1)"><rect x="0" class="V"/><rect x="1" class="S"/><rect x="2" class="L"/><rect x="3" class="L"/><rect x="4" class="R"/><rect x="5" class="R"/><rect x="6" class="I"/><rect x="7" class="G"/><rect x="23" class="I"/><rect x="24" class="S"/><rect x="25" class="L"/><rect x="26" class="F"/><rect x="27" class="L"/><rect x="28" class="E"/></g>
<text class="sq" transform="translate(550,357.9)" x="3.67 11 18.33 25.66 32.99 40.32 47.65 54.98 62.31 69.64 76.97 84.3 91.63 98.96 106.29 113.62 120.95 128.28 135.61 142.94 150.27 157.6 164.93 172.26 179.59 186.92 194.25 201.58 208.91">VSLLRRIG<tspan class="gp">---------------</tspan>ISLFLE</text></g>
<g id="f-r2"><text class="lb" x="404.7" y="369.7">AT4G14590.1.TAIR10 (fixed)</text>
<g class="s" transform="translate(550,360.5) scale(7.33,1)"><rect x="0" class="V"/><rect x="1" class="S"/><rect x="2" class="L"/><rect x="3" class="L"/><rect x="4" class="R"/><rect x="5" class="R"/><rect x="6" class="I"/><rect x="7" class="G"/><rect x="8" class="S"/><rect x="9" class="G"/><rect x="10" class="D"/><rect x="11" class="Y"/><rect x="12" class="G"/><rect x="13" class="D"/><rect x="14" class="H"/><rect x="15" class="N"/><rect x="16" class="V"/><rect x="17" class="W"/><rect x="18" class="L"/><rect x="19" class="C"/><rect x="20" class="S"/><rect x="21" class="E"/><rect x="22" class="L"/><rect x="23" class="V"/><rect x="24" class="S"/><rect x="25" class="L"/><rect x="26" class="F"/><rect x="27" class="L"/><rect x="28" class="E"/></g>
<text class="sq" transform="translate(550,369.1)" x="3.67 11 18.33 25.66 32.99 40.32 47.65 54.98 62.31 69.64 76.97 84.3 91.63 98.96 106.29 113.62 120.95 128.28 135.61 142.94 150.27 157.6 164.93 172.26 179.59 186.92 194.25 201.58 208.91">VSLLRRIGSGDYGDHNVWLCSELVSLFLE</text></g>
<g id="f-r3"><text class="lb" x="404.7" y="406.9">Brara.C01753.1.v1.3</text>
<g class="s" transform="translate(550,397.7) scale(7.33,1)"><rect x="0" class="V"/><rect x="1" class="C"/><rect x="2" class="L"/><rect x="3" class="L"/><rect x="4" class="R"/><rect x="5" class="Q"/><rect x="6" class="I"/><rect x="7" class="I"/><rect x="8" class="G"/><rect x="9" class="G"/><rect x="10" class="D"/><rect x="11" class="F"/><rect x="12" class="S"/><rect x="13" class="D"/><rect x="14" class="G"/><rect x="15" class="N"/><rect x="16" class="L"/><rect x="17" class="W"/><rect x="18" class="L"/><rect x="19" class="C"/><rect x="20" class="F"/><rect x="21" class="E"/><rect x="22" class="L"/><rect x="23" class="V"/><rect x="24" class="S"/><rect x="25" class="V"/><rect x="26" class="C"/><rect x="27" class="L"/><rect x="28" class="S"/></g>
<text class="sq" transform="translate(550,406.3)" x="3.67 11 18.33 25.66 32.99 40.32 47.65 54.98 62.31 69.64 76.97 84.3 91.63 98.96 106.29 113.62 120.95 128.28 135.61 142.94 150.27 157.6 164.93 172.26 179.59 186.92 194.25 201.58 208.91">VCLLRQIIGGDFSDGNLWLCFELVSVCLS</text></g>
<g id="f-r4"><text class="lb" x="404.7" y="418">evm.TU.supercontig_529.1</text>
<g class="s" transform="translate(550,408.8) scale(7.33,1)"><rect x="0" class="V"/><rect x="1" class="S"/><rect x="2" class="L"/><rect x="3" class="L"/><rect x="4" class="R"/><rect x="5" class="R"/><rect x="6" class="I"/><rect x="7" class="G"/><rect x="8" class="S"/><rect x="9" class="G"/><rect x="10" class="D"/><rect x="11" class="Y"/><rect x="12" class="G"/><rect x="13" class="E"/><rect x="14" class="Q"/><rect x="15" class="N"/><rect x="16" class="V"/><rect x="17" class="W"/><rect x="18" class="L"/><rect x="19" class="C"/><rect x="20" class="S"/><rect x="21" class="E"/><rect x="22" class="L"/><rect x="23" class="V"/><rect x="24" class="S"/><rect x="25" class="L"/><rect x="26" class="F"/><rect x="27" class="L"/><rect x="28" class="D"/></g>
<text class="sq" transform="translate(550,417.4)" x="3.67 11 18.33 25.66 32.99 40.32 47.65 54.98 62.31 69.64 76.97 84.3 91.63 98.96 106.29 113.62 120.95 128.28 135.61 142.94 150.27 157.6 164.93 172.26 179.59 186.92 194.25 201.58 208.91">VSLLRRIGSGDYGEQNVWLCSELVSLFLD</text></g>
<g id="f-r5"><text class="lb" x="404.7" y="429.1">Carubv10007126m.v1.0</text>
<g class="s" transform="translate(550,419.9) scale(7.33,1)"><rect x="0" class="S"/><rect x="1" class="L"/><rect x="2" class="L"/><rect x="3" class="L"/><rect x="4" class="R"/><rect x="5" class="R"/><rect x="6" class="I"/><rect x="7" class="G"/><rect x="8" class="T"/><rect x="9" class="G"/><rect x="10" class="D"/><rect x="11" class="Y"/><rect x="12" class="S"/><rect x="13" class="D"/><rect x="14" class="Q"/><rect x="15" class="N"/><rect x="16" class="V"/><rect x="17" class="W"/><rect x="18" class="L"/><rect x="19" class="C"/><rect x="20" class="S"/><rect x="21" class="E"/><rect x="22" class="L"/><rect x="23" class="V"/><rect x="24" class="G"/><rect x="25" class="L"/><rect x="26" class="F"/><rect x="27" class="L"/><rect x="28" class="E"/></g>
<text class="sq" transform="translate(550,428.5)" x="3.67 11 18.33 25.66 32.99 40.32 47.65 54.98 62.31 69.64 76.97 84.3 91.63 98.96 106.29 113.62 120.95 128.28 135.61 142.94 150.27 157.6 164.93 172.26 179.59 186.92 194.25 201.58 208.91">SLLLRRIGTGDYSDQNVWLCSELVGLFLE</text></g>
<g id="f-r6"><text class="lb" x="404.7" y="440.2">Thecc1EG040949t1.CGDv1.1</text>
<g class="s" transform="translate(550,431) scale(7.33,1)"><rect x="0" class="V"/><rect x="1" class="S"/><rect x="2" class="L"/><rect x="3" class="L"/><rect x="4" class="R"/><rect x="5" class="Q"/><rect x="6" class="I"/><rect x="7" class="V"/><rect x="8" class="G"/><rect x="9" class="G"/><rect x="10" class="D"/><rect x="11" class="F"/><rect x="12" class="S"/><rect x="13" class="D"/><rect x="14" class="E"/><rect x="15" class="N"/><rect x="16" class="L"/><rect x="17" class="L"/><rect x="18" class="L"/><rect x="19" class="C"/><rect x="20" class="F"/><rect x="21" class="E"/><rect x="22" class="L"/><rect x="23" class="V"/><rect x="24" class="N"/><rect x="25" class="L"/><rect x="26" class="L"/><rect x="27" class="L"/><rect x="28" class="A"/></g>
<text class="sq" transform="translate(550,439.6)" x="3.67 11 18.33 25.66 32.99 40.32 47.65 54.98 62.31 69.64 76.97 84.3 91.63 98.96 106.29 113.62 120.95 128.28 135.61 142.94 150.27 157.6 164.93 172.26 179.59 186.92 194.25 201.58 208.91">VSLLRQIVGGDFSDENLLLCFELVNLLLA</text></g>
</g>

<!-- ============ PANEL G ============ -->
<g id="panel-g">
<text class="pl" x="1.7" y="486.7">g</text>
<text class="tt" x="20" y="486.7">Moved start codon (OG0012127)</text>
<g id="g-bar1"><rect class="bar" x="133.3" y="506" width="227.2" height="6"/><use href="#st" class="mk" x="134.3" y="506"/></g>
<g id="g-bar2"><rect class="bar" x="206.6" y="551.7" width="153.9" height="6"/><use href="#st" class="mk" x="207.6" y="551.7"/></g>
<g fill="#666"><use href="#dt" x="364.6" y="509"/><use href="#dt" x="364.6" y="554.7"/><use href="#dt" x="364.6" y="522.2"/><use href="#dt" x="364.6" y="533.1"/>
<use href="#dt" x="364.6" y="568.8"/><use href="#dt" x="364.6" y="579.7"/><use href="#dt" x="364.6" y="590.6"/><use href="#dt" x="364.6" y="601.5"/></g>
<g id="g-r1"><text class="lb" x="2.7" y="525.9">AT3G01380.1.TAIR10</text>
<g class="s" transform="translate(133.3,516.7) scale(7.33,1)"><rect x="0" class="M"/><rect x="1" class="F"/><rect x="2" class="L"/><rect x="3" class="V"/><rect x="4" class="G"/><rect x="5" class="E"/><rect x="6" class="L"/><rect x="7" class="G"/><rect x="8" class="R"/><rect x="9" class="S"/><rect x="10" class="M"/><rect x="11" class="R"/><rect x="12" class="S"/><rect x="13" class="D"/><rect x="14" class="G"/><rect x="15" class="I"/><rect x="16" class="L"/><rect x="17" class="G"/><rect x="18" class="V"/><rect x="21" class="G"/><rect x="22" class="G"/><rect x="23" class="S"/><rect x="24" class="D"/><rect x="25" class="Q"/><rect x="26" class="S"/><rect x="27" class="R"/><rect x="28" class="A"/><rect x="29" class="T"/><rect x="30" class="A"/></g>
<text class="sq" transform="translate(133.3,525.3)" x="3.67 11 18.33 25.66 32.99 40.32 47.65 54.98 62.31 69.64 76.97 84.3 91.63 98.96 106.29 113.62 120.95 128.28 135.61 142.94 150.27 157.6 164.93 172.26 179.59 186.92 194.25 201.58 208.91 216.24 223.57">MFLVGELGRSMRSDGILGV<tspan class="gp">--</tspan>GGSDQSRATA</text></g>
<g id="g-r2"><text class="lb" x="2.7" y="536.8">AT3G01380.1.TAIR10 (fixed)</text>
<g class="s" transform="translate(133.3,527.6) scale(7.33,1)"><rect x="10" class="M"/><rect x="11" class="R"/><rect x="12" class="S"/><rect x="13" class="D"/><rect x="14" class="G"/><rect x="15" class="I"/><rect x="16" class="L"/><rect x="17" class="G"/><rect x="18" class="V"/><rect x="21" class="G"/><rect x="22" class="G"/><rect x="23" class="S"/><rect x="24" class="D"/><rect x="25" class="Q"/><rect x="26" class="S"/><rect x="27" class="R"/><rect x="28" class="A"/><rect x="29" class="T"/><rect x="30" class="A"/></g>
<text class="sq" transform="translate(133.3,536.2)" x="3.67 11 18.33 25.66 32.99 40.32 47.65 54.98 62.31 69.64 76.97 84.3 91.63 98.96 106.29 113.62 120.95 128.28 135.61 142.94 150.27 157.6 164.93 172.26 179.59 186.92 194.25 201.58 208.91 216.24 223.57"><tspan class="gp">----------</tspan>MRSDGILGV<tspan class="gp">--</tspan>GGSDQSRATA</text></g>
<g id="g-r3"><text class="lb" x="2.7" y="572.5">Thecc1EG016816t1.CGDv1.1</text>
<g class="s" transform="translate(133.3,563.3) scale(7.33,1)"><rect x="10" class="M"/><rect x="11" class="G"/><rect x="12" class="S"/><rect x="13" class="D"/><rect x="14" class="G"/><rect x="15" class="I"/><rect x="16" class="L"/><rect x="17" class="G"/><rect x="18" class="N"/><rect x="21" class="R"/><rect x="22" class="D"/><rect x="23" class="S"/><rect x="24" class="K"/><rect x="25" class="Q"/><rect x="26" class="S"/><rect x="27" class="K"/><rect x="28" class="A"/><rect x="29" class="S"/><rect x="30" class="I"/></g>
<text class="sq" transform="translate(133.3,571.9)" x="3.67 11 18.33 25.66 32.99 40.32 47.65 54.98 62.31 69.64 76.97 84.3 91.63 98.96 106.29 113.62 120.95 128.28 135.61 142.94 150.27 157.6 164.93 172.26 179.59 186.92 194.25 201.58 208.91 216.24 223.57"><tspan class="gp">----------</tspan>MGSDGILGN<tspan class="gp">--</tspan>RDSKQSKASI</text></g>
<g id="g-r4"><text class="lb" x="2.7" y="583.4">Brara.E03651.1.v1.3</text>
<g class="s" transform="translate(133.3,574.2) scale(7.33,1)"><rect x="10" class="M"/><rect x="11" class="R"/><rect x="12" class="S"/><rect x="13" class="D"/><rect x="14" class="G"/><rect x="15" class="I"/><rect x="16" class="L"/><rect x="17" class="G"/><rect x="18" class="A"/><rect x="19" class="R"/><rect x="20" class="G"/><rect x="21" class="G"/><rect x="22" class="G"/><rect x="23" class="S"/><rect x="24" class="D"/><rect x="25" class="Q"/><rect x="26" class="N"/><rect x="27" class="R"/><rect x="28" class="A"/><rect x="29" class="T"/><rect x="30" class="A"/></g>
<text class="sq" transform="translate(133.3,582.8)" x="3.67 11 18.33 25.66 32.99 40.32 47.65 54.98 62.31 69.64 76.97 84.3 91.63 98.96 106.29 113.62 120.95 128.28 135.61 142.94 150.27 157.6 164.93 172.26 179.59 186.92 194.25 201.58 208.91 216.24 223.57"><tspan class="gp">----------</tspan>MRSDGILGARGGGSDQNRATA</text></g>
<g id="g-r5"><text class="lb" x="2.7" y="594.3">Carubv10012893m.v1.0</text>
<g class="s" transform="translate(133.3,585.1) scale(7.33,1)"><rect x="10" class="M"/><rect x="11" class="R"/><rect x="12" class="S"/><rect x="13" class="D"/><rect x="14" class="G"/><rect x="15" class="I"/><rect x="16" class="L"/><rect x="17" class="G"/><rect x="18" class="V"/><rect x="21" class="G"/><rect x="22" class="G"/><rect x="23" class="S"/><rect x="24" class="D"/><rect x="25" class="Q"/><rect x="26" class="S"/><rect x="27" class="R"/><rect x="28" class="A"/><rect x="29" class="T"/><rect x="30" class="A"/></g>
<text class="sq" transform="translate(133.3,593.7)" x="3.67 11 18.33 25.66 32.99 40.32 47.65 54.98 62.31 69.64 76.97 84.3 91.63 98.96 106.29 113.62 120.95 128.28 135.61 142.94 150.27 157.6 164.93 172.26 179.59 186.92 194.25 201.58 208.91 216.24 223.57"><tspan class="gp">----------</tspan>MRSDGILGV<tspan class="gp">--</tspan>GGSDQSRATA</text></g>
<g id="g-r6"><text class="lb" x="2.7" y="605.2">evm.TU.supercontig_14.89</text>
<g class="s" transform="translate(133.3,596) scale(7.33,1)"><rect x="10" class="M"/><rect x="11" class="R"/><rect x="12" class="G"/><rect x="13" class="N"/><rect x="14" class="G"/><rect x="15" class="I"/><rect x="16" class="L"/><rect x="17" class="G"/><rect x="18" class="I"/><rect x="21" class="N"/><rect x="22" class="D"/><rect x="23" class="L"/><rect x="24" class="D"/><rect x="25" class="H"/><rect x="26" class="S"/><rect x="27" class="R"/><rect x="28" class="A"/><rect x="29" class="T"/><rect x="30" class="L"/></g>
<text class="sq" transform="translate(133.3,604.6)" x="3.67 11 18.33 25.66 32.99 40.32 47.65 54.98 62.31 69.64 76.97 84.3 91.63 98.96 106.29 113.62 120.95 128.28 135.61 142.94 150.27 157.6 164.93 172.26 179.59 186.92 194.25 201.58 208.91 216.24 223.57"><tspan class="gp">----------</tspan>MRGNGILGI<tspan class="gp">--</tspan>NDLDHSRATL</text></g>
</g>

<!-- ============ PANEL H ============ -->
<g id="panel-h">
<text class="pl" x="400.7" y="486.7">h</text>
<text class="tt" x="421.3" y="486.7">Complex (OG0013306)</text>
<g id="h-bar1"><rect class="bar" x="550" y="506.3" width="212.6" height="6"/><use href="#mk" class="mk" x="674.6" y="502.3"/><text class="ast" x="763.3" y="515.5">*</text></g>
<g id="h-bar2"><rect class="bar" x="550" y="553" width="146.6" height="6"/><text class="ast" x="698.8" y="562.2">*</text></g>
<g fill="#666"><use href="#dt" x="537" y="509.3"/><use href="#dt" x="537" y="556"/><use href="#dt" x="537" y="522.2"/><use href="#dt" x="537" y="533.4"/>
<use href="#dt" x="537" y="569.8"/><use href="#dt" x="537" y="581"/><use href="#dt" x="537" y="592.2"/><use href="#dt" x="537" y="603.4"/></g>
<g id="h-r1"><text class="lb" x="404.7" y="525.9">AT5G11490.2.TAIR10</text>
<g class="s" transform="translate(550,516.7) scale(7.33,1)"><rect x="0" class="S"/><rect x="1" class="T"/><rect x="2" class="C"/><rect x="3" class="Q"/><rect x="4" class="A"/><rect x="5" class="F"/><rect x="6" class="T"/><rect x="7" class="T"/><rect x="8" class="V"/><rect x="9" class="F"/><rect x="10" class="E"/><rect x="11" class="T"/><rect x="12" class="A"/><rect x="13" class="L"/><rect x="14" class="S"/><rect x="15" class="K"/><rect x="16" class="F"/><rect x="17" class="V"/><rect x="18" class="S"/><rect x="19" class="L"/><rect x="20" class="T"/><rect x="21" class="F"/><rect x="22" class="D"/><rect x="23" class="F"/><rect x="24" class="V"/><rect x="25" class="S"/><rect x="26" class="L"/><rect x="27" class="C"/><rect x="28" class="Y"/></g>
<text class="sq" transform="translate(550,525.3)" x="3.67 11 18.33 25.66 32.99 40.32 47.65 54.98 62.31 69.64 76.97 84.3 91.63 98.96 106.29 113.62 120.95 128.28 135.61 142.94 150.27 157.6 164.93 172.26 179.59 186.92 194.25 201.58 208.91">STCQAFTTVFETALSKFVSLTFDFVSLCY</text></g>
<g id="h-r2"><text class="lb" x="404.7" y="537.1">AT5G11490.2.TAIR10 (fixed)</text>
<g class="s" transform="translate(550,527.9) scale(7.33,1)"><rect x="0" class="S"/><rect x="1" class="T"/><rect x="2" class="S"/><rect x="3" class="S"/><rect x="4" class="A"/><rect x="5" class="F"/><rect x="6" class="S"/><rect x="7" class="T"/><rect x="8" class="V"/><rect x="9" class="F"/><rect x="10" class="Q"/><rect x="11" class="S"/><rect x="12" class="A"/><rect x="13" class="L"/><rect x="14" class="S"/><rect x="15" class="R"/><rect x="16" class="F"/><rect x="17" class="G"/><rect x="18" class="I"/><rect x="19" class="P"/></g>
<text class="sq" transform="translate(550,536.5)" x="3.67 11 18.33 25.66 32.99 40.32 47.65 54.98 62.31 69.64 76.97 84.3 91.63 98.96 106.29 113.62 120.95 128.28 135.61 142.94 150.27 157.6 164.93 172.26 179.59 186.92 194.25 201.58 208.91">STSSAFSTVFQSALSRFGIP<tspan class="gp">---------</tspan></text></g>
<g id="h-r3"><text class="lb" x="404.7" y="573.5">Brara.C00463.1.v1.3</text>
<g class="s" transform="translate(550,564.3) scale(7.33,1)"><rect x="0" class="S"/><rect x="1" class="T"/><rect x="2" class="S"/><rect x="3" class="Q"/><rect x="4" class="A"/><rect x="5" class="F"/><rect x="6" class="A"/><rect x="7" class="T"/><rect x="8" class="V"/><rect x="9" class="F"/><rect x="10" class="E"/><rect x="11" class="T"/><rect x="12" class="A"/><rect x="13" class="L"/><rect x="14" class="S"/><rect x="15" class="K"/><rect x="16" class="F"/><rect x="17" class="G"/><rect x="18" class="M"/><rect x="19" class="P"/></g>
<text class="sq" transform="translate(550,572.9)" x="3.67 11 18.33 25.66 32.99 40.32 47.65 54.98 62.31 69.64 76.97 84.3 91.63 98.96 106.29 113.62 120.95 128.28 135.61 142.94 150.27 157.6 164.93 172.26 179.59 186.92 194.25 201.58 208.91">STSQAFATVFETALSKFGMP<tspan class="gp">---------</tspan></text></g>
<g id="h-r4"><text class="lb" x="404.7" y="584.7">evm.TU.supercontig_78.83</text>
<g class="s" transform="translate(550,575.5) scale(7.33,1)"><rect x="0" class="S"/><rect x="1" class="T"/><rect x="2" class="S"/><rect x="3" class="Q"/><rect x="4" class="A"/><rect x="5" class="F"/><rect x="6" class="A"/><rect x="7" class="T"/><rect x="8" class="I"/><rect x="9" class="F"/><rect x="10" class="E"/><rect x="11" class="T"/><rect x="12" class="A"/><rect x="13" class="L"/><rect x="14" class="S"/><rect x="15" class="K"/><rect x="16" class="F"/><rect x="17" class="G"/><rect x="18" class="M"/><rect x="19" class="P"/></g>
<text class="sq" transform="translate(550,584.1)" x="3.67 11 18.33 25.66 32.99 40.32 47.65 54.98 62.31 69.64 76.97 84.3 91.63 98.96 106.29 113.62 120.95 128.28 135.61 142.94 150.27 157.6 164.93 172.26 179.59 186.92 194.25 201.58 208.91">STSQAFATIFETALSKFGMP<tspan class="gp">---------</tspan></text></g>
<g id="h-r5"><text class="lb" x="404.7" y="595.9">Carubv10000217m.v1.0</text>
<g class="s" transform="translate(550,586.7) scale(7.33,1)"><rect x="0" class="S"/><rect x="1" class="T"/><rect x="2" class="S"/><rect x="3" class="R"/><rect x="4" class="A"/><rect x="5" class="F"/><rect x="6" class="W"/><rect x="7" class="D"/><rect x="8" class="L"/><rect x="9" class="F"/><rect x="10" class="Q"/><rect x="11" class="S"/><rect x="12" class="A"/><rect x="13" class="L"/><rect x="14" class="S"/><rect x="15" class="K"/><rect x="16" class="F"/><rect x="17" class="G"/><rect x="18" class="M"/><rect x="19" class="P"/></g>
<text class="sq" transform="translate(550,595.3)" x="3.67 11 18.33 25.66 32.99 40.32 47.65 54.98 62.31 69.64 76.97 84.3 91.63 98.96 106.29 113.62 120.95 128.28 135.61 142.94 150.27 157.6 164.93 172.26 179.59 186.92 194.25 201.58 208.91">STSRAFWDLFQSALSKFGMP<tspan class="gp">---------</tspan></text></g>
<g id="h-r6"><text class="lb" x="404.7" y="607.1">Thecc1EG046915t1.CGDv1.1</text>
<g class="s" transform="translate(550,597.9) scale(7.33,1)"><rect x="0" class="S"/><rect x="1" class="T"/><rect x="2" class="C"/><rect x="3" class="Q"/><rect x="4" class="A"/><rect x="5" class="F"/><rect x="6" class="T"/><rect x="7" class="T"/><rect x="8" class="V"/><rect x="9" class="F"/><rect x="10" class="E"/><rect x="11" class="T"/><rect x="12" class="A"/><rect x="13" class="L"/><rect x="14" class="S"/><rect x="15" class="K"/><rect x="16" class="F"/><rect x="17" class="G"/><rect x="18" class="M"/><rect x="19" class="P"/></g>
<text class="sq" transform="translate(550,606.5)" x="3.67 11 18.33 25.66 32.99 40.32 47.65 54.98 62.31 69.64 76.97 84.3 91.63 98.96 106.29 113.62 120.95 128.28 135.61 142.94 150.27 157.6 164.93 172.26 179.59 186.92 194.25 201.58 208.91">STCQAFTTVFETALSKFGMP<tspan class="gp">---------</tspan></text></g>
</g>

<!-- ============ CONNECTORS (intron lines) ============ -->
<g id="connectors">
<polyline class="in" points="229.6,78.4 258.9,75 288.3,78.4"/>
<polyline class="in" points="647.6,28.9 662.3,24 676.9,28.9"/>
<polyline class="in" points="172.7,184.9 257,180.6 341.3,184.9"/>
<polyline class="in" points="574.3,229.9 658.6,225.3 742.9,229.9"/>
<polyline class="in" points="172.7,392.1 257,387.3 341.3,392.1"/>
<polyline class="in" points="608.6,338.4 663.6,333.3 718.6,338.4"/>
</g>
</svg>
